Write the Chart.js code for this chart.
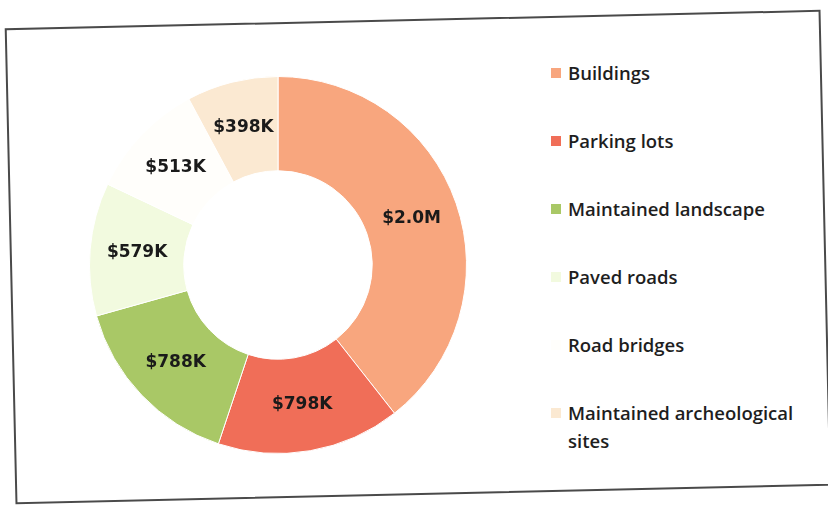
<!DOCTYPE html>
<html>
<head>
<meta charset="utf-8">
<script src="https://cdn.jsdelivr.net/npm/chart.js@4.4.1/dist/chart.umd.min.js"></script>
<style>
  html, body { margin: 0; padding: 0; background: #fff; }
  body { width: 828px; height: 512px; position: relative; overflow: hidden; }
  .frame {
    position: absolute; left: 10px; top: 19px; width: 812px; height: 472px;
    border: 2px solid #4a4a4a; transform: rotate(-1.3deg);
  }
  .donut { position: absolute; left: 89px; top: 76px; width: 378px; height: 378px; }
  #legend {
    position: absolute; left: 549px; top: 59px; width: 270px;
    list-style: none; margin: 0; padding: 0;
    font-family: "Open Sans", sans-serif; font-size: 18.5px; font-weight: 600; color: #1e1e1e;
  }
  #legend li { display: flex; align-items: flex-start; line-height: 28px; margin-bottom: 40px; }
  #legend .box { flex: none; width: 10px; height: 10px; margin: 9px 7px 0 2px; }
</style>
</head>
<body>
<div class="frame"></div>
<div class="donut"><canvas id="chart"></canvas></div>
<ul id="legend"></ul>
<script>
// cost by asset type, in thousands of dollars
const categories = ["Buildings", "Parking lots", "Maintained landscape", "Paved roads", "Road bridges", "Maintained archeological sites"];
const values = [2000, 798, 788, 579, 513, 398];
const colors = ["#f8a67e", "#f06e58", "#a9c866", "#f2fadf", "#fffefb", "#fbe9d2"];

function money(v) {
  if (v >= 1000) return "$" + (v / 1000).toFixed(1) + "M";
  return "$" + v + "K";
}

// values written on the slices
const sliceLabels = {
  id: "sliceLabels",
  afterDatasetsDraw(chart) {
    const ctx = chart.ctx;
    const meta = chart.getDatasetMeta(0);
    ctx.save();
    ctx.font = "bold 17px 'DejaVu Sans', sans-serif";
    ctx.fillStyle = "#1a1a1a";
    ctx.textAlign = "center";
    ctx.textBaseline = "middle";
    meta.data.forEach((arc, i) => {
      const p = arc.tooltipPosition();
      ctx.fillText(money(values[i]), p.x, p.y);
    });
    ctx.restore();
  }
};

new Chart(document.getElementById("chart"), {
  type: "doughnut",
  data: {
    labels: categories,
    datasets: [{
      data: values,
      backgroundColor: colors,
      borderColor: "#ffffff",
      borderWidth: 1
    }]
  },
  options: {
    responsive: true,
    maintainAspectRatio: false,
    animation: false,
    cutout: "50%",
    layout: { padding: 0 },
    plugins: {
      legend: { display: false },
      tooltip: { enabled: false }
    }
  },
  plugins: [sliceLabels]
});

const legend = document.getElementById("legend");
categories.forEach((name, i) => {
  const li = document.createElement("li");
  li.innerHTML = `<span class="box" style="background:${colors[i]}"></span><span>${name}</span>`;
  legend.appendChild(li);
});
</script>
</body>
</html>
